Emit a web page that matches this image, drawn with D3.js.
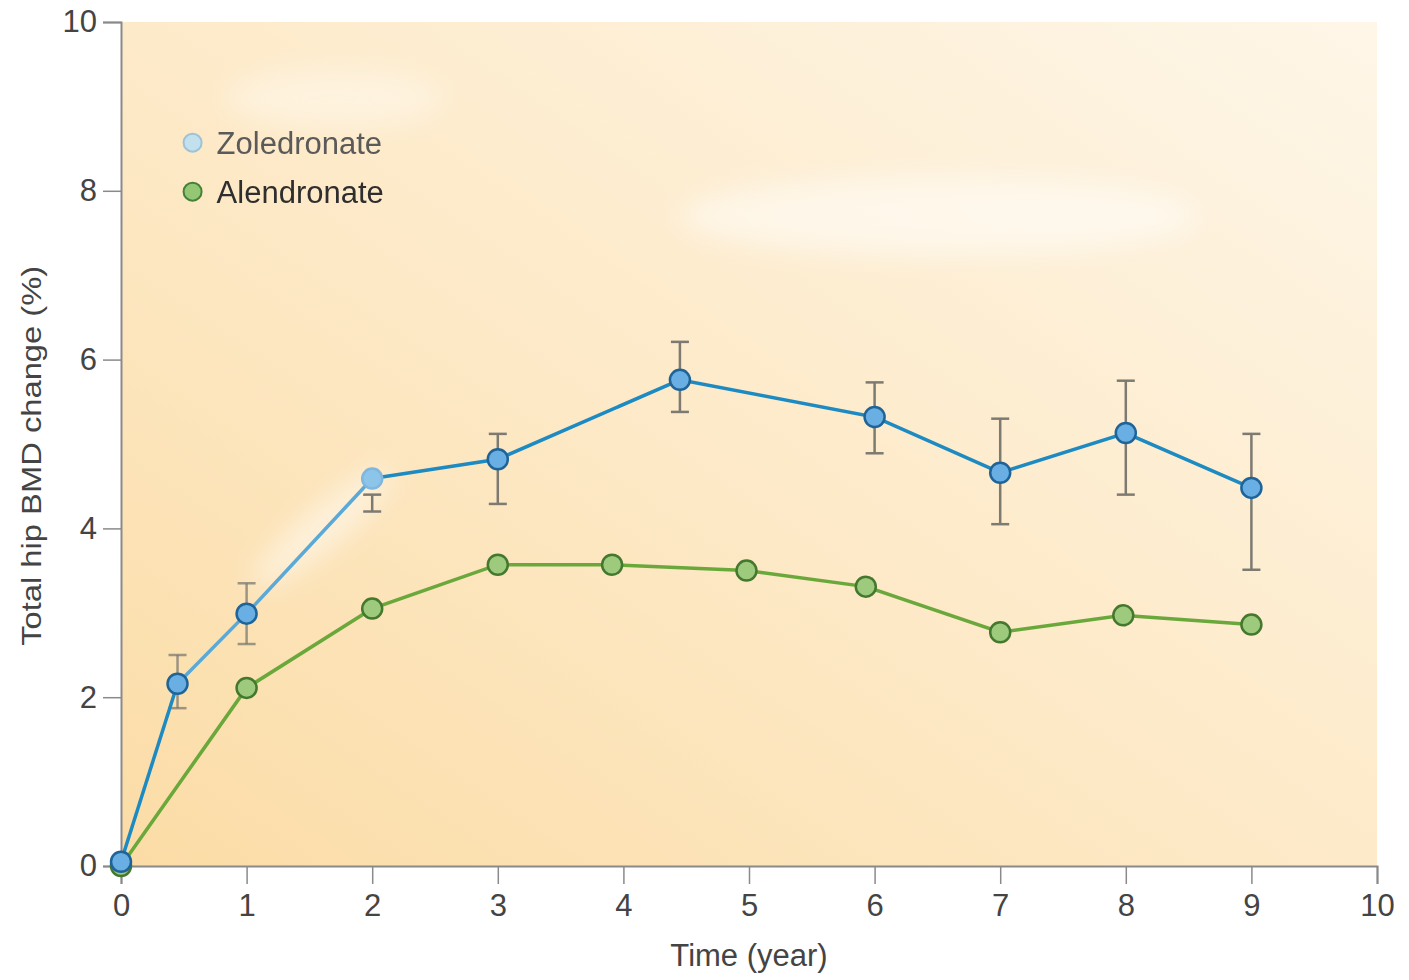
<!DOCTYPE html>
<html>
<head>
<meta charset="utf-8">
<script src="https://cdn.jsdelivr.net/npm/d3@7"></script>
<style>
  body { margin: 0; background: #fff; }
  #chart text { font-family: "Liberation Sans", Arial, sans-serif; }
</style>
</head>
<body>
<div id="chart"></div>
<script>
// Data
const zolTime = [0, 0.45, 1, 2, 3, 4.45, 6, 7, 8, 9]
const zolValue = [0.05, 2.16, 2.99, 4.59, 4.82, 5.76, 5.32, 4.66, 5.13, 4.48]
const zolLow = [null, 1.87, 2.63, 4.2, 4.29, 5.38, 4.89, 4.05, 4.4, 3.51]
const zolHigh = [null, 2.5, 3.35, 4.4, 5.12, 6.21, 5.73, 5.3, 5.75, 5.12]

const alnTime = [0, 1, 2, 3, 3.91, 4.98, 5.93, 7, 7.98, 9]
const alnValue = [0, 2.11, 3.05, 3.57, 3.57, 3.5, 3.31, 2.77, 2.97, 2.86]

const xTicks = [0, 1, 2, 3, 4, 5, 6, 7, 8, 9, 10]
const yTicks = [0, 2, 4, 6, 8, 10]
const seriesNames = ['Zoledronate', 'Alendronate']

function draw() {
  let dimensions = {
    width: 1409,
    height: 980,
    left: 121,
    top: 22,
    right: 32,
    bottom: 114,
  }
  dimensions.ctrWidth = dimensions.width - dimensions.left - dimensions.right
  dimensions.ctrHeight = dimensions.height - dimensions.top - dimensions.bottom

  const svg = d3.select('#chart')
    .append('svg')
    .attr('width', dimensions.width)
    .attr('height', dimensions.height)

  const defs = svg.append('defs')
  const grad = defs.append('linearGradient')
    .attr('id', 'bg')
    .attr('x1', '0%').attr('y1', '100%')
    .attr('x2', '100%').attr('y2', '0%')
  grad.append('stop').attr('offset', '0%').attr('stop-color', '#fbdca6')
  grad.append('stop').attr('offset', '45%').attr('stop-color', '#fde9c6')
  grad.append('stop').attr('offset', '100%').attr('stop-color', '#fef6e8')

  const blur = defs.append('filter').attr('id', 'haze')
    .attr('x', '-50%').attr('y', '-50%').attr('width', '200%').attr('height', '200%')
  blur.append('feGaussianBlur').attr('stdDeviation', 14)

  const ctr = svg.append('g')
    .attr('transform', `translate(${dimensions.left}, ${dimensions.top})`)

  // Scales
  const xScale = d3.scaleLinear()
    .domain([0, 10])
    .range([0, dimensions.ctrWidth])

  const yScale = d3.scaleLinear()
    .domain([0, 10])
    .range([dimensions.ctrHeight, 0])

  // Background
  ctr.append('rect')
    .attr('width', dimensions.ctrWidth)
    .attr('height', dimensions.ctrHeight)
    .attr('fill', 'url(#bg)')

  // faint whitish patches
  const haze = ctr.append('g').attr('filter', 'url(#haze)').attr('opacity', 0.5)
  haze.append('ellipse')
    .attr('cx', xScale(1.7)).attr('cy', yScale(9.1))
    .attr('rx', 110).attr('ry', 30).attr('fill', '#fffaf2')
  haze.append('ellipse')
    .attr('cx', xScale(6.5)).attr('cy', yScale(7.7))
    .attr('rx', 260).attr('ry', 40).attr('fill', '#ffffff')
  haze.append('ellipse')
    .attr('cx', xScale(1.6)).attr('cy', yScale(4.0))
    .attr('rx', 90).attr('ry', 20).attr('fill', '#ffffff')
    .attr('transform', `rotate(-40, ${xScale(1.6)}, ${yScale(4.0)})`)

  // Axes
  const axisColor = '#8a8a8a'
  const xAxis = d3.axisBottom(xScale)
    .tickValues(xTicks)
    .tickSize(18)
    .tickPadding(10)
    .tickFormat(d3.format('d'))

  const xAxisGroup = ctr.append('g')
    .attr('transform', `translate(0, ${dimensions.ctrHeight})`)
    .call(xAxis)
  xAxisGroup.select('.domain').attr('stroke', axisColor).attr('stroke-width', 2)
  xAxisGroup.selectAll('.tick line').attr('stroke', axisColor).attr('stroke-width', 1.5)
  xAxisGroup.selectAll('.tick text')
    .attr('fill', '#444')
    .style('font-size', '31px')

  xAxisGroup.append('text')
    .attr('x', xScale(5))
    .attr('y', 100)
    .attr('fill', '#444')
    .style('font-size', '31px')
    .style('text-anchor', 'middle')
    .text('Time (year)')

  const yAxis = d3.axisLeft(yScale)
    .tickValues(yTicks)
    .tickSize(18)
    .tickPadding(6)
    .tickFormat(d3.format('d'))

  const yAxisGroup = ctr.append('g').call(yAxis)
  yAxisGroup.select('.domain').attr('stroke', axisColor).attr('stroke-width', 2)
  yAxisGroup.selectAll('.tick line').attr('stroke', axisColor).attr('stroke-width', 1.5)
  yAxisGroup.selectAll('.tick text')
    .attr('fill', '#444')
    .style('font-size', '31px')

  yAxisGroup.append('text')
    .attr('transform', `translate(-80, ${yScale(4.86)}) rotate(-90)`)
    .attr('fill', '#444')
    .style('font-size', '28px')
    .style('text-anchor', 'middle')
    .attr('textLength', 380)
    .attr('lengthAdjust', 'spacingAndGlyphs')
    .text('Total hip BMD change (%)')

  // Data
  const zol = zolTime.map((t, i) => ({ t, v: zolValue[i], lo: zolLow[i], hi: zolHigh[i], i }))
  const aln = alnTime.map((t, i) => ({ t, v: alnValue[i], i }))

  const lineGenerator = d3.line()
    .x(d => xScale(d.t))
    .y(d => yScale(d.v))

  // Alendronate
  ctr.append('path')
    .datum(aln)
    .attr('d', lineGenerator)
    .attr('fill', 'none')
    .attr('stroke', '#6aa83c')
    .attr('stroke-width', 3.5)

  ctr.selectAll('.aln-dot')
    .data(aln)
    .join('circle')
    .attr('class', 'aln-dot')
    .attr('cx', d => xScale(d.t))
    .attr('cy', d => yScale(d.v))
    .attr('r', 10)
    .attr('fill', '#9dca7c')
    .attr('stroke', '#44782e')
    .attr('stroke-width', 2.5)

  // Zoledronate error bars
  const bars = zol.filter(d => d.lo !== null)
  const barG = ctr.append('g')
    .attr('stroke', '#7d7a72')
    .attr('stroke-width', 2.5)
  bars.forEach(d => {
    const op = d.i <= 2 ? 0.75 : 1
    barG.append('line')
      .attr('x1', xScale(d.t)).attr('x2', xScale(d.t))
      .attr('y1', yScale(d.lo)).attr('y2', yScale(d.hi))
      .attr('opacity', op)
    ;[d.lo, d.hi].forEach(e => {
      barG.append('line')
        .attr('x1', xScale(d.t) - 9).attr('x2', xScale(d.t) + 9)
        .attr('y1', yScale(e)).attr('y2', yScale(e))
        .attr('opacity', op)
    })
  })

  // Zoledronate line: early segment looks washed out in the source
  ctr.append('path')
    .datum(zol.slice(0, 2))
    .attr('d', lineGenerator)
    .attr('fill', 'none')
    .attr('stroke', '#1d8ac2')
    .attr('stroke-width', 3.5)
  ctr.append('path')
    .datum(zol.slice(1, 4))
    .attr('d', lineGenerator)
    .attr('fill', 'none')
    .attr('stroke', '#5aa9d6')
    .attr('stroke-width', 3.5)
  ctr.append('path')
    .datum(zol.slice(3))
    .attr('d', lineGenerator)
    .attr('fill', 'none')
    .attr('stroke', '#1d8ac2')
    .attr('stroke-width', 3.5)

  ctr.selectAll('.zol-dot')
    .data(zol)
    .join('circle')
    .attr('class', 'zol-dot')
    .attr('cx', d => xScale(d.t))
    .attr('cy', d => yScale(d.v))
    .attr('r', 10)
    .attr('fill', d => d.i === 3 ? '#8cc4ea' : '#6aafe3')
    .attr('stroke', d => d.i === 3 ? '#7fb7df' : '#1f6499')
    .attr('stroke-width', 2.5)

  // Legend
  const legend = ctr.append('g')
    .attr('transform', `translate(${xScale(0.57)}, ${yScale(8.57)})`)
  const legendFill = ['#c3e0ee', '#94c774']
  const legendStroke = ['#9cc3d8', '#46803a']
  const legendText = ['#5a5a5a', '#2e2e2e']
  seriesNames.forEach((name, i) => {
    const row = legend.append('g').attr('transform', `translate(0, ${i * 49})`)
    row.append('circle')
      .attr('r', 9)
      .attr('fill', legendFill[i])
      .attr('stroke', legendStroke[i])
      .attr('stroke-width', 2)
    row.append('text')
      .attr('x', 24)
      .attr('y', 11)
      .attr('fill', legendText[i])
      .style('font-size', '31px')
      .text(name)
  })
}
draw()
</script>
</body>
</html>
